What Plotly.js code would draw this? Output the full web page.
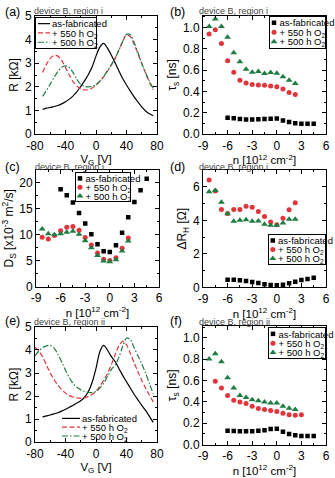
<!DOCTYPE html>
<html><head><meta charset="utf-8">
<script src="https://cdn.plot.ly/plotly-3.0.1.min.js"></script>
<style>html,body{margin:0;padding:0;background:#fff}#plot{width:335px;height:478px}</style>
</head><body><div id="plot"></div>
<script>
// ---------------- data ----------------
const SERIES = ['as-fabricated', '+ 550 h O<sub>2</sub>', '+ 500 h O<sub>2</sub>'];

// (a) device B, region i : R vs VG
const VG_A = [-70,-65,-60,-55,-50,-45,-40,-35,-30,-25,-20,-15,-10,-5,0,5,10,15,20,25,30,35,40,45,50,55,60,65,70,75];
const R_A_FAB = [1.05,1.10,1.13,1.17,1.21,1.28,1.37,1.48,1.62,1.80,2.02,2.25,2.52,2.85,3.30,3.68,3.84,3.64,3.35,3.02,2.68,2.35,2.08,1.82,1.58,1.36,1.15,0.98,0.86,0.78];
const R_A_550 = [2.61,2.95,3.20,3.33,3.30,3.12,2.82,2.50,2.22,2.03,1.92,1.87,1.88,1.95,2.07,2.22,2.42,2.66,2.92,3.20,3.55,3.92,4.20,4.12,3.80,3.40,2.98,2.58,2.20,1.88];
const R_A_500 = [1.60,1.85,2.12,2.40,2.65,2.83,2.89,2.82,2.60,2.32,2.10,2.02,2.00,2.02,2.10,2.24,2.44,2.68,2.93,3.20,3.55,3.92,4.22,4.20,3.88,3.45,3.00,2.60,2.24,1.95];

// (e) device B, region ii : R vs VG
const VG_E_FAB = [-70,-65,-60,-55,-50,-45,-40,-35,-30,-25,-20,-15,-10,-5,0,5,10,15,20,25,30,35,40,45,50,55,60,65,70,75];
const R_E_FAB = [1.10,1.14,1.18,1.23,1.28,1.35,1.43,1.52,1.60,1.70,1.80,1.95,2.20,2.60,3.20,3.92,4.20,4.00,3.72,3.50,3.20,2.90,2.62,2.35,2.08,1.84,1.60,1.38,1.12,0.86];
const VG_E_O2 = [-80,-75,-70,-65,-60,-55,-50,-45,-40,-35,-30,-25,-20,-15,-10,-5,0,5,10,15,20,25,30,35,40,45,50,55,60,65,70,75];
const R_E_550 = [4.12,3.95,3.70,3.35,3.00,2.72,2.48,2.28,2.13,2.02,1.96,1.92,1.91,1.93,1.98,2.08,2.22,2.42,2.68,2.98,3.35,3.78,4.18,4.38,4.22,3.85,3.45,3.05,2.68,2.35,2.05,1.75];
const R_E_500 = [3.74,3.95,4.10,4.18,4.20,4.08,3.82,3.48,3.12,2.80,2.55,2.38,2.27,2.20,2.16,2.15,2.20,2.35,2.55,2.85,3.15,3.35,3.68,4.15,4.52,4.45,4.10,3.75,3.40,3.00,2.55,2.10];

// carrier density grids
const N_FAB = [-6,-5.25,-4.5,-3.75,-3,-2.25,-1.5,-0.75,0,0.75,1.5,2.25,3,3.75,4.5];
const N_O2  = [-8.25,-7.5,-6.75,-6,-5.25,-4.5,-3.75,-3,-2.25,-1.5,-0.75,0,0.75,1.5,2.25];
const N_F550 = [-7.5,-6.75,-6,-5.25,-4.5,-3.75,-3,-2.25,-1.5,-0.75,0,0.75,1.5,2.25,3];

// (b) tau_s region i
const TAU_B_FAB = [0.155,0.150,0.142,0.138,0.138,0.140,0.142,0.145,0.148,0.128,0.113,0.102,0.098,0.097,0.097];
const TAU_B_550 = [0.94,0.98,0.85,0.69,0.58,0.505,0.48,0.465,0.462,0.46,0.453,0.444,0.425,0.39,0.372];
const TAU_B_500 = [1.01,1.08,1.01,0.91,0.765,0.68,0.61,0.58,0.587,0.57,0.578,0.572,0.538,0.506,0.475];

// (c) D_s region i
const D_C_FAB = [18.8,17.6,16.2,14.2,12.2,10.1,8.2,6.85,6.7,8.0,10.4,13.4,16.3,18.6,20.8];
const D_C_550 = [9.55,9.2,9.85,10.8,11.45,11.6,10.9,9.5,8.05,6.5,5.3,5.05,5.6,7.4,9.4];
const D_C_500 = [11.1,10.2,10.0,10.2,10.5,10.7,10.1,8.85,7.5,6.0,4.95,4.8,5.2,6.9,8.8];

// (d) Delta R_H region i
const DR_D_FAB = [0.46,0.46,0.43,0.38,0.33,0.26,0.19,0.15,0.14,0.16,0.25,0.34,0.44,0.51,0.58];
const DR_D_550 = [6.4,5.75,4.65,4.4,4.65,4.65,4.84,4.78,4.53,4.23,3.9,3.74,4.13,4.63,5.04];
const DR_D_500 = [5.7,5.78,5.08,4.39,3.94,4.0,4.04,3.94,3.96,3.76,3.7,3.7,3.84,4.06,4.07];

// (f) tau_s region ii
const TAU_F_FAB = [0.13,0.128,0.125,0.125,0.125,0.13,0.136,0.146,0.149,0.122,0.10,0.088,0.082,0.082,0.082];
const TAU_F_550 = [0.594,0.53,0.46,0.415,0.40,0.385,0.36,0.338,0.33,0.32,0.31,0.295,0.28,0.276,0.28];
const TAU_F_500 = [0.80,0.85,0.775,0.625,0.53,0.46,0.44,0.42,0.41,0.40,0.39,0.39,0.36,0.34,0.33];

// tick labels
const VG_TICKS = [-80,-40,0,40,80], VG_TEXT = ['-80','-40','0','40','80'];
const N_TICKS = [-9,-6,-3,0,3,6], N_TEXT = ['-9','-6','-3','0','3','6'];
const R_TICKS = [0,1,2,3,4,5], R_TEXT = ['0','1','2','3','4','5'];
const TAU_TICKS = [0,0.2,0.4,0.6,0.8,1.0], TAU_TEXT = ['0.0','0.2','0.4','0.6','0.8','1.0'];
const D_TICKS = [0,5,10,15,20], D_TEXT = ['0','5','10','15','20'];
const DR_TICKS = [0,2,4,6], DR_TEXT = ['0','2','4','6'];

// ---------------- style ----------------
const W = 335, H = 478;
const FONT = '"Liberation Sans Narrow", "Liberation Sans", Arial, sans-serif';
const C_BLK = '#000000', C_RED = '#e2353b', C_GRN = '#1d7d42';

function xax(p0, p1, range, tv, tt, minor, anchor, title){
  return base({domain:[p0/W, p1/W], range, anchor}, tv, tt, minor, title, 0, 11.5);
}
function yax(top, bot, range, tv, tt, minor, anchor, title){
  return base({domain:[1-bot/H, 1-top/H], range, anchor}, tv, tt, minor, title, 3, 12);
}
function base(o, tv, tt, minor, title, so, tfs){
  return Object.assign(o, {
    tickmode:'array', tickvals:tv, ticktext:tt,
    ticks:'inside', ticklen:4, tickwidth:1, tickcolor:'#000',
    showline:true, linecolor:'#000', linewidth:1, mirror:'ticks',
    showgrid:false, zeroline:false, fixedrange:true,
    tickfont:{family:FONT, size:12, color:'#000'},
    minor:{tickmode:'linear', tick0:0, dtick:minor, ticks:'inside', ticklen:2, tickwidth:1, tickcolor:'#000', showgrid:false},
    title:{text:title, font:{family:FONT, size:tfs, color:'#000'}, standoff:so},
    automargin:false
  });
}

const XT_VG = 'V<sub>G</sub> [V]';
const XT_N = 'n [10<sup>12</sup> cm<sup>-2</sup>]';

function lineTr(x, y, name, color, dash, xa, ya, leg){
  return {type:'scatter', mode:'lines', x, y, name, xaxis:xa, yaxis:ya, legend:leg,
    line:{color, width:1.2, dash, shape:'spline', smoothing:0.8}, hoverinfo:'skip'};
}
function mkTr(x, y, name, color, symbol, size, xa, ya, leg){
  return {type:'scatter', mode:'markers', x, y, name, xaxis:xa, yaxis:ya, legend:leg,
    marker:{color, symbol, size, line:{width:0}}, hoverinfo:'skip'};
}
const DASH_R = '5px,2.5px', DASH_G = '6px,2px,1.5px,2px';

const traces = [
  lineTr(VG_A, R_A_FAB, SERIES[0], C_BLK, 'solid', 'x', 'y', 'legend'),
  lineTr(VG_A, R_A_550, SERIES[1], C_RED, DASH_R, 'x', 'y', 'legend'),
  lineTr(VG_A, R_A_500, SERIES[2], C_GRN, DASH_G, 'x', 'y', 'legend'),

  mkTr(N_FAB, TAU_B_FAB, SERIES[0], C_BLK, 'square', 4.5, 'x2', 'y2', 'legend2'),
  mkTr(N_O2, TAU_B_550, SERIES[1], C_RED, 'circle', 5, 'x2', 'y2', 'legend2'),
  mkTr(N_O2, TAU_B_500, SERIES[2], C_GRN, 'triangle-up', 6, 'x2', 'y2', 'legend2'),

  mkTr(N_FAB, D_C_FAB, SERIES[0], C_BLK, 'square', 4.5, 'x3', 'y3', 'legend3'),
  mkTr(N_O2, D_C_550, SERIES[1], C_RED, 'circle', 5, 'x3', 'y3', 'legend3'),
  mkTr(N_O2, D_C_500, SERIES[2], C_GRN, 'triangle-up', 6, 'x3', 'y3', 'legend3'),

  mkTr(N_FAB, DR_D_FAB, SERIES[0], C_BLK, 'square', 4.5, 'x4', 'y4', 'legend4'),
  mkTr(N_O2, DR_D_550, SERIES[1], C_RED, 'circle', 5, 'x4', 'y4', 'legend4'),
  mkTr(N_O2, DR_D_500, SERIES[2], C_GRN, 'triangle-up', 6, 'x4', 'y4', 'legend4'),

  lineTr(VG_E_FAB, R_E_FAB, SERIES[0], C_BLK, 'solid', 'x5', 'y5', 'legend5'),
  lineTr(VG_E_O2, R_E_550, SERIES[1], C_RED, DASH_R, 'x5', 'y5', 'legend5'),
  lineTr(VG_E_O2, R_E_500, SERIES[2], C_GRN, DASH_G, 'x5', 'y5', 'legend5'),

  mkTr(N_FAB, TAU_F_FAB, SERIES[0], C_BLK, 'square', 4.5, 'x6', 'y6', 'legend6'),
  mkTr(N_F550, TAU_F_550, SERIES[1], C_RED, 'circle', 5, 'x6', 'y6', 'legend6'),
  mkTr(N_O2, TAU_F_500, SERIES[2], C_GRN, 'triangle-up', 6, 'x6', 'y6', 'legend6')
];

function leg(x, y, xanchor, border){
  return {x:x/W, y:1-y/H, xanchor, yanchor:'top', bgcolor: border ? '#fff' : 'rgba(0,0,0,0)',
    bordercolor:'#000', borderwidth: border ? 1 : 0, font:{family:FONT, size:9.5, color:'#000'},
    tracegroupgap:0, itemwidth:30, traceorder:'normal'};
}

const PANEL_LABELS = [['(a)',3,12],['(b)',168,12],['(c)',3,168.5],['(d)',168,168.5],['(e)',3,323],['(f)',168,323]];
const SUBTITLES = [['device B, region i',32,11],['device B, region i',197,11],['device B, region i',33,168],['device B, region i',197,168],['device B, region ii',32,324],['device B, region ii',197,324]];

const annotations = [];
PANEL_LABELS.forEach(a => annotations.push({text:a[0], x:a[1]/W, y:1-a[2]/H, xref:'paper', yref:'paper', xanchor:'left', yanchor:'middle', showarrow:false, font:{family:FONT, size:12.5, color:'#000'}}));
SUBTITLES.forEach(a => annotations.push({text:a[0], x:a[1]/W, y:1-a[2]/H, xref:'paper', yref:'paper', xanchor:'left', yanchor:'middle', showarrow:false, font:{family:FONT, size:9, color:'#444'}}));

const layout = {
  width:W, height:H, margin:{l:0,r:0,t:0,b:0}, paper_bgcolor:'#fff', plot_bgcolor:'rgba(0,0,0,0)',
  font:{family:FONT, size:11, color:'#000'}, showlegend:true,
  xaxis:  xax(35, 157, [-80,80], VG_TICKS, VG_TEXT, 20, 'y', XT_VG),
  yaxis:  yax(16, 135, [0,5], R_TICKS, R_TEXT, 0.5, 'x', 'R [kΩ]'),
  xaxis2: xax(203, 326, [-9,6], N_TICKS, N_TEXT, 1.5, 'y2', XT_N),
  yaxis2: yax(16, 135, [0,1.11], TAU_TICKS, TAU_TEXT, 0.1, 'x2', 'τ<sub>s</sub> [ns]'),
  xaxis3: xax(36, 159, [-9,6], N_TICKS, N_TEXT, 1.5, 'y3', XT_N),
  yaxis3: yax(171, 288.5, [0,22.5], D_TICKS, D_TEXT, 2.5, 'x3', 'D<sub>S</sub> [x10<sup>-3</sup> m<sup>2</sup>/s]'),
  xaxis4: xax(203, 326, [-9,6], N_TICKS, N_TEXT, 1.5, 'y4', XT_N),
  yaxis4: yax(171, 289.3, [0,7], DR_TICKS, DR_TEXT, 1, 'x4', 'ΔR<sub>H</sub> [Ω]'),
  xaxis5: xax(35, 157, [-80,80], VG_TICKS, VG_TEXT, 20, 'y5', XT_VG),
  yaxis5: yax(329, 445, [0,5], R_TICKS, R_TEXT, 0.5, 'x5', 'R [kΩ]'),
  xaxis6: xax(203, 326, [-9,6], N_TICKS, N_TEXT, 1.5, 'y6', XT_N),
  yaxis6: yax(328, 447.5, [0,1.11], TAU_TICKS, TAU_TEXT, 0.1, 'x6', 'τ<sub>s</sub> [ns]'),
  legend:  leg(35, 17, 'left', true),
  legend2: leg(326, 16, 'right', true),
  legend3: leg(75, 172, 'left', true),
  legend4: leg(326, 234, 'right', true),
  legend5: leg(60, 414, 'left', false),
  legend6: leg(326, 327, 'right', true),
  annotations
};

// compact legend geometry (px, relative to legend box), applied as CSS so it survives redraws
const LEG_GEOM = {
  legend:  {left:35, top:17, w:62, rowH:9.3, padT:2, line:[3,15], textX:17},
  legend2: {left:269, top:16, w:57, rowH:9.5, padT:2, symX:5, textX:10.5},
  legend3: {left:75, top:172, w:56, rowH:8.8, padT:2, symX:5, textX:10.5},
  legend4: {left:268, top:234.3, w:58, rowH:9, padT:1.7, symX:4.8, textX:10},
  legend5: {left:60, top:414, w:75, rowH:8.8, padT:0, line:[2,20], textX:22},
  legend6: {left:268, top:327, w:58, rowH:9.3, padT:2.2, symX:5, textX:10.5}
};
(function(){
  let css = '';
  Object.keys(LEG_GEOM).forEach(function(id){
    const c = LEG_GEOM[id], L = '#plot g.infolayer > g.' + id;
    const bh = c.padT*2 + c.rowH*3;
    css += L + '{transform:translate(' + c.left + 'px,' + c.top + 'px) !important;}\n';
    css += L + ' rect.bg{x:0.5px;y:0.5px;width:' + (c.w-1) + 'px;height:' + (bh-1) + 'px;}\n';
    css += L + ' g.scrollbox, ' + L + ' g.groups{transform:none !important;}\n';
    for(let i = 1; i <= 3; i++){
      const ty = c.padT + c.rowH*(i-0.5);
      css += L + ' g.groups > g.traces:nth-of-type(' + i + '){transform:translate(0px,' + ty + 'px);}\n';
      css += L + ' g.groups:nth-of-type(' + i + ') > g.traces:only-of-type{transform:translate(0px,' + ty + 'px);}\n';
    }
    css += L + ' g.traces > text{transform:translateX(' + (c.textX - 40) + 'px) !important;}\n';
    if(c.line) css += L + ' g.legendlines path{d:path("M' + c.line[0] + ',0h' + (c.line[1]-c.line[0]) + '");}\n';
    if(c.symX != null) css += L + ' g.legendpoints path.scatterpts{transform:translate(' + c.symX + 'px,0px);}\n';
  });
  const st = document.createElement('style');
  st.textContent = css;
  document.head.appendChild(st);
})();

Plotly.newPlot('plot', traces, layout, {staticPlot:true, displayModeBar:false});
</script>
</body></html>
